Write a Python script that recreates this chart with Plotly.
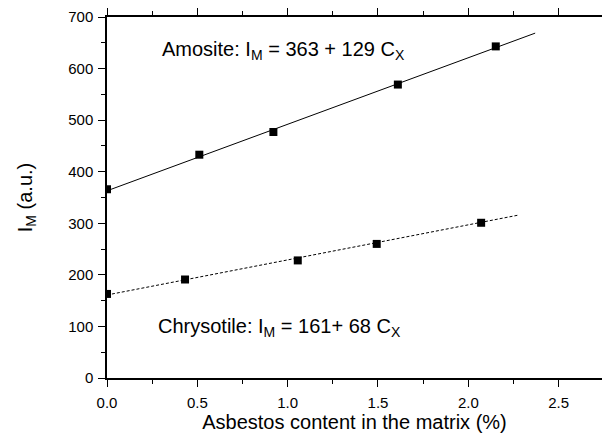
import plotly.graph_objects as go

# Data
amosite_x = [0.0, 0.511, 0.921, 1.61, 2.152]
amosite_y = [366, 433, 477, 569, 643]
chrysotile_x = [0.0, 0.432, 1.056, 1.493, 2.071]
chrysotile_y = [163, 191, 228, 260, 301]

# Linear fits shown in the chart
amosite_fit = {"intercept": 363, "slope": 129, "x": [0.0, 2.37]}
chrysotile_fit = {"intercept": 161, "slope": 68, "x": [0.0, 2.28]}

x_ticks = [0.0, 0.5, 1.0, 1.5, 2.0, 2.5]
y_ticks = [0, 100, 200, 300, 400, 500, 600, 700]

FONT = "Arial, 'Liberation Sans', sans-serif"

def fit_y(fit):
    return [fit["intercept"] + fit["slope"] * x for x in fit["x"]]

fig = go.Figure()
fig.add_trace(go.Scatter(x=amosite_fit["x"], y=fit_y(amosite_fit), mode="lines",
                         line=dict(color="black", width=1), showlegend=False))
fig.add_trace(go.Scatter(x=chrysotile_fit["x"], y=fit_y(chrysotile_fit), mode="lines",
                         line=dict(color="black", width=1, dash="3px,2px"), showlegend=False))
fig.add_trace(go.Scatter(x=amosite_x, y=amosite_y, mode="markers",
                         marker=dict(symbol="square", size=8, color="black"), showlegend=False))
fig.add_trace(go.Scatter(x=chrysotile_x, y=chrysotile_y, mode="markers",
                         marker=dict(symbol="square", size=8, color="black"), showlegend=False))

fig.add_annotation(x=0.295, y=635, xref="x", yref="y", xanchor="left", yanchor="middle",
                   text="Amosite: I<sub>M</sub> = 363 + 129 C<sub>X</sub>", showarrow=False,
                   font=dict(family=FONT, size=20, color="black"))
fig.add_annotation(x=0.27, y=98, xref="x", yref="y", xanchor="left", yanchor="middle",
                   text="Chrysotile: I<sub>M</sub> = 161+ 68 C<sub>X</sub>", showarrow=False,
                   font=dict(family=FONT, size=20, color="black"))

fig.update_layout(
    width=602, height=435,
    margin=dict(l=107, r=0, t=17, b=57),
    plot_bgcolor="white", paper_bgcolor="white",
    font=dict(family=FONT, color="black"),
)
fig.update_xaxes(
    range=[0, 2.74], tickvals=x_ticks, ticktext=[f"{v:.1f}" for v in x_ticks],
    showgrid=False, zeroline=False, showline=True, linecolor="black", linewidth=1.5,
    mirror="ticks", ticks="outside", ticklen=7, tickwidth=1, tickcolor="black",
    minor=dict(ticks="outside", ticklen=4, dtick=0.25, tickcolor="black"),
    tickfont=dict(size=15), ticklabelstandoff=3,
    title=dict(text="Asbestos content in the matrix (%)", font=dict(size=20), standoff=5),
)
fig.update_yaxes(
    range=[0, 700], tickvals=y_ticks,
    showgrid=False, zeroline=False, showline=True, linecolor="black", linewidth=1.5,
    ticks="outside", ticklen=7, tickwidth=1, tickcolor="black",
    minor=dict(ticks="outside", ticklen=4, dtick=50, tickcolor="black"),
    tickfont=dict(size=15), ticklabelstandoff=2,
    title=dict(text="I<sub>M</sub> (a.u.)", font=dict(size=20), standoff=30),
)

fig.write_html("out.html")
